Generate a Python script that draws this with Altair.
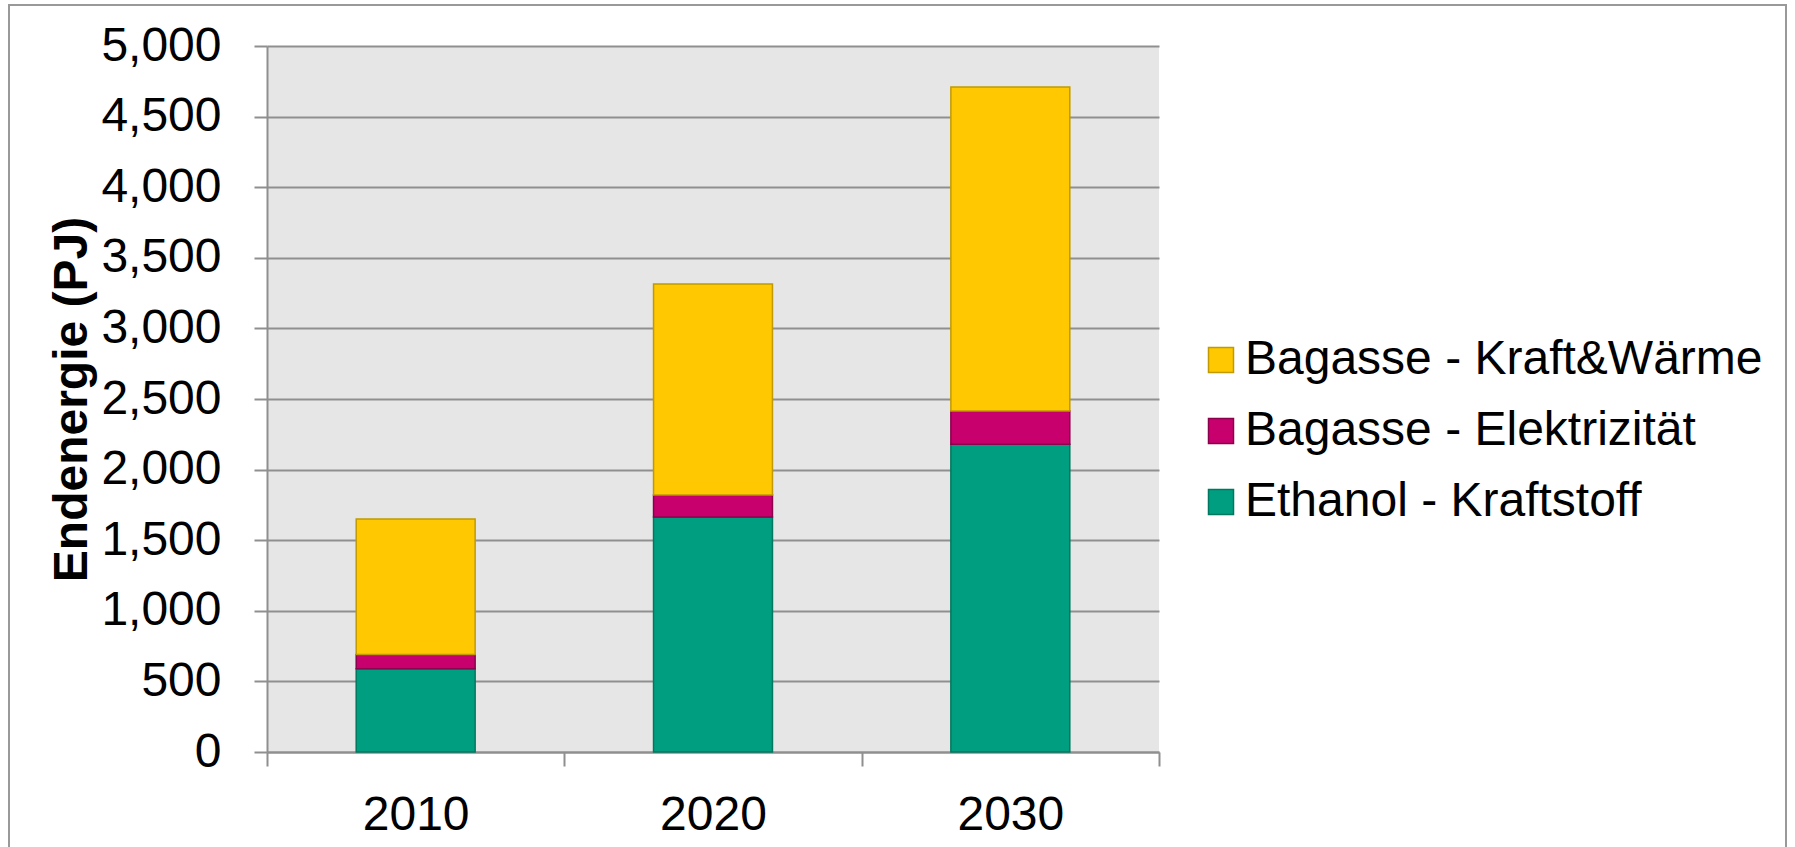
import altair as alt
import pandas as pd

# Final energy from sugar cane, by use (PJ)
years = ["2010", "2020", "2030"]
ethanol_kraftstoff = [590, 1665, 2180]
bagasse_elektrizitaet = [100, 155, 235]
bagasse_kraft_waerme = [960, 1495, 2295]

series = ["Bagasse - Kraft&Wärme", "Bagasse - Elektrizität", "Ethanol - Kraftstoff"]
fill_colors = ["#FFC800", "#C8006E", "#009E80"]
edge_colors = ["#C09A00", "#8A004C", "#00785F"]
y_ticks = list(range(0, 5001, 500))

rows = []
for i, year in enumerate(years):
    rows.append({"Jahr": year, "Nutzung": "Ethanol - Kraftstoff", "PJ": ethanol_kraftstoff[i], "Stapel": 0})
    rows.append({"Jahr": year, "Nutzung": "Bagasse - Elektrizität", "PJ": bagasse_elektrizitaet[i], "Stapel": 1})
    rows.append({"Jahr": year, "Nutzung": "Bagasse - Kraft&Wärme", "PJ": bagasse_kraft_waerme[i], "Stapel": 2})
df = pd.DataFrame(rows)

FONT = "Liberation Sans"
GRID = "#8F8F8F"
LABEL_SIZE = 48

bars = alt.Chart(df).mark_bar(strokeWidth=1.5, width=alt.RelativeBandSize(0.4)).encode(
    x=alt.X(
        "Jahr:N",
        title=None,
        scale=alt.Scale(paddingInner=0, paddingOuter=0),
        axis=alt.Axis(
            tickBand="extent",
            labelAngle=0,
            tickSize=14,
            tickWidth=2,
            tickColor=GRID,
            domainColor=GRID,
            domainWidth=2,
            labelPadding=25,
            labelFontSize=LABEL_SIZE,
            labelFont=FONT,
            labelColor="#000000",
            grid=False,
        ),
    ),
    y=alt.Y(
        "PJ:Q",
        stack="zero",
        title="Endenergie (PJ)",
        scale=alt.Scale(domain=[0, 5000], nice=False),
        axis=alt.Axis(
            values=y_ticks,
            format=",.0f",
            tickSize=13,
            tickWidth=2,
            tickColor=GRID,
            domainColor=GRID,
            domainWidth=2,
            gridColor=GRID,
            gridWidth=2,
            labelPadding=33,
            labelFontSize=LABEL_SIZE,
            labelFont=FONT,
            labelColor="#000000",
            titleFont=FONT,
            titleFontSize=48,
            titleFontWeight="bold",
            titleColor="#000000",
            titleX=-195,
            titleY=353,
            titleAlign="center",
            titleBaseline="middle",
            titleAngle=270,
        ),
    ),
    fill=alt.Fill(
        "Nutzung:N",
        title=None,
        scale=alt.Scale(domain=series, range=fill_colors),
    ),
    stroke=alt.Stroke(
        "Nutzung:N",
        title=None,
        scale=alt.Scale(domain=series, range=edge_colors),
    ),
    order=alt.Order("Stapel:Q", sort="ascending"),
)

# thin frame around the whole figure
frame = alt.Chart(pd.DataFrame({"k": [0]})).mark_rect(
    fill=None, stroke="#999999", strokeWidth=2
).encode(
    x=alt.value(-258), x2=alt.value(1519), y=alt.value(-41), y2=alt.value(900)
)

chart = alt.layer(bars, frame).properties(
    width=892,
    height=706,
    autosize=alt.AutoSizeParams(type="none"),
    padding={"left": 267, "top": 46, "right": 636, "bottom": 95},
    background="#FFFFFF",
).configure_view(
    fill="#E6E6E6", stroke=None
).configure_legend(
    orient="none",
    legendX=930,
    legendY=290,
    padding=0,
    symbolType="square",
    symbolSize=625,
    symbolStrokeWidth=1.5,
    labelFontSize=LABEL_SIZE,
    labelFont=FONT,
    labelColor="#000000",
    labelOffset=0,
    labelLimit=0,
    rowPadding=23,
)

chart.save("out.html", embed_options={"renderer": "svg", "actions": False})
